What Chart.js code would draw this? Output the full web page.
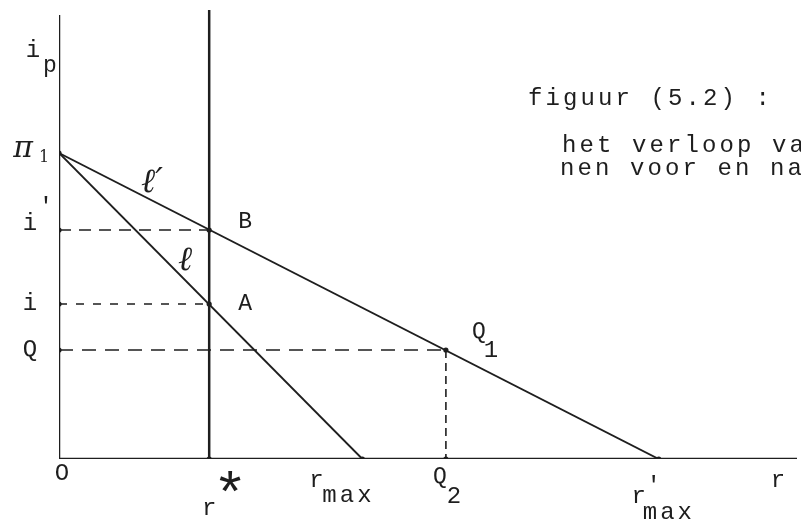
<!DOCTYPE html>
<html>
<head>
<meta charset="utf-8">
<script src="https://cdn.jsdelivr.net/npm/chart.js@4"></script>
<style>
  html, body { margin: 0; padding: 0; background: #ffffff; }
  #wrap { width: 801px; height: 520px; }
</style>
</head>
<body>
<div id="wrap"><canvas id="c" width="801" height="520"></canvas></div>
<script>
// ---- data (units) ----
const axisExtent = [742, 444];          // [x max, y max]
const intercept = [306];                // π₁ on the i_p axis
const lineNames = ["ℓ", "ℓ'"];
const lineEndsX = [305, 603];           // r_max, r'_max
const rStar = [151];                    // r*
const rStarTop = [449];
const guideNames = ["i'", "i", "Q"];
const guideLevels = [229, 155, 109];    // i', i, Q
const guideEnds = [151, 151, 389];      // r*, r*, Q2
const q2 = [389];
const pointNames = ["B", "A", "Q1"];
const pointX = [151, 151, 389];
const pointY = [229, 155, 109];
const captionLines = ["figuur (5.2) :", "het verloop va", "nen voor en na"];

const INK = '#1e1e1e';
const MONO = '"Liberation Mono", "DejaVu Sans Mono", monospace';
const SERIF_IT = 'italic 34px "DejaVu Serif", "Liberation Serif", serif';

const dashes = [[12, 8], [8, 9], [14, 9]];

const datasets = [
  { data: [{x:0,y:0},{x:axisExtent[0],y:0}], borderWidth: 2.5 },
  { data: [{x:0,y:0},{x:0,y:axisExtent[1]}], borderWidth: 2.5 },
  { data: [{x:rStar[0],y:0},{x:rStar[0],y:rStarTop[0]}], borderWidth: 2.5, clip: false },
  { data: [{x:0,y:intercept[0]},{x:lineEndsX[0],y:0}], borderWidth: 1.9 },
  { data: [{x:0,y:intercept[0]},{x:lineEndsX[1],y:0}], borderWidth: 1.9 },
];
guideLevels.forEach((lv, k) => {
  datasets.push({ data: [{x:0,y:lv},{x:guideEnds[k],y:lv}], borderWidth: 1.6, borderDash: dashes[k] });
});
datasets.push({ data: [{x:q2[0],y:guideLevels[2]},{x:q2[0],y:0}], borderWidth: 1.6, borderDash: [8, 5] });
// dots
const dots = [{x:0,y:intercept[0]},{x:lineEndsX[0],y:0},{x:lineEndsX[1],y:0},{x:q2[0],y:0},{x:rStar[0],y:0}];
pointX.forEach((x, k) => dots.push({x, y: pointY[k]}));
guideLevels.forEach(lv => dots.push({x:0, y:lv}));
datasets.push({ data: dots, showLine: false, pointRadius: 2.6, pointBackgroundColor: INK, pointBorderWidth: 0 });

datasets.forEach(d => {
  d.borderColor = INK;
  if (d.showLine === undefined) { d.showLine = true; d.pointRadius = 0; }
  d.fill = false;
  d.tension = 0;
});

function txt(ctx, s, x, y, font, align, ls) {
  ctx.font = font;
  ctx.letterSpacing = ls || '0px';
  ctx.textAlign = align || 'center';
  ctx.textBaseline = 'alphabetic';
  ctx.fillText(s, x, y);
}

const labelPlugin = {
  id: 'labels',
  afterDatasetsDraw(chart) {
    const ctx = chart.ctx;
    const xs = chart.scales.x, ys = chart.scales.y;
    const P = (x, y) => [xs.getPixelForValue(x), ys.getPixelForValue(y)];
    const F = '24px ' + MONO;
    const FS = '23px ' + MONO;
    ctx.save();
    ctx.fillStyle = INK;

    // origin
    let [ox, oy] = P(0, 0);
    txt(ctx, 'O', ox + 3, oy + 21, F);
    // i_p
    let [tx, ty] = P(0, axisExtent[1]);
    txt(ctx, 'i', tx - 26, ty + 42, F);
    txt(ctx, 'p', tx - 9, ty + 57, FS);
    // π₁
    let [px, py] = P(0, intercept[0]);
    txt(ctx, 'π', px - 36, py + 4, 'italic 30px "DejaVu Serif", serif');
    txt(ctx, '1', px - 15, py + 9, '16px "DejaVu Serif", serif');
    // ℓ' and ℓ
    txt(ctx, lineNames[1].replace("'", '′'), px + 93, py + 39, SERIF_IT);
    txt(ctx, lineNames[0], px + 126, py + 117, SERIF_IT);
    // guide labels on the vertical axis
    guideLevels.forEach((lv, k) => {
      const [gx, gy] = P(0, lv);
      const name = guideNames[k];
      if (name === "i'") {
        txt(ctx, 'i', gx - 29, gy + 0, F);
        txt(ctx, "'", gx - 13, gy - 16, F);
      } else {
        txt(ctx, name, gx - 29, gy + 6, F);
      }
    });
    // point labels
    pointNames.forEach((name, k) => {
      const [qx, qy] = P(pointX[k], pointY[k]);
      if (name === 'Q1') {
        txt(ctx, 'Q', qx + 33, qy - 12, FS);
        txt(ctx, '1', qx + 45, qy + 7, F);
      } else {
        txt(ctx, name, qx + 36, qy + (name === 'B' ? -2 : 6), FS);
      }
    });
    // r*
    let [sx, sy] = P(rStar[0], 0);
    txt(ctx, 'r', sx, sy + 56, F);
    txt(ctx, '*', sx + 21, sy + 54, '58px ' + MONO);
    // r_max
    let [mx, my] = P(lineEndsX[0], 0);
    txt(ctx, 'r', mx - 46, my + 28, F);
    txt(ctx, 'max', mx - 40, my + 43, F, 'left', '3px');
    // Q2
    let [qx2, qy2] = P(q2[0], 0);
    txt(ctx, 'Q', qx2 - 6, qy2 + 24, FS);
    txt(ctx, '2', qx2 + 8, qy2 + 44, F);
    // r'_max
    let [nx, ny] = P(lineEndsX[1], 0);
    txt(ctx, 'r', nx - 20, ny + 44, F);
    txt(ctx, "'", nx - 5, ny + 34, F);
    txt(ctx, 'max', nx - 16, ny + 60, F, 'left', '3px');
    // r (axis)
    let [ex, ey] = P(axisExtent[0], 0);
    txt(ctx, 'r', ex - 19, ey + 28, F);

    // caption (typewritten)
    txt(ctx, captionLines[0], 528, 105, F, 'left', '3.1px');
    txt(ctx, captionLines[1], 562, 152, F, 'left', '3.1px');
    txt(ctx, captionLines[2], 560, 175, F, 'left', '3.1px');
    ctx.restore();
  }
};

new Chart(document.getElementById('c'), {
  type: 'scatter',
  data: { datasets },
  options: {
    responsive: false,
    animation: false,
    devicePixelRatio: 1,
    layout: { padding: { left: 59, right: 0, top: 15, bottom: 61 } },
    plugins: { legend: { display: false }, tooltip: { enabled: false } },
    scales: {
      x: { type: 'linear', display: false, min: 0, max: axisExtent[0] },
      y: { type: 'linear', display: false, min: 0, max: axisExtent[1] }
    }
  },
  plugins: [labelPlugin]
});
</script>
</body>
</html>
